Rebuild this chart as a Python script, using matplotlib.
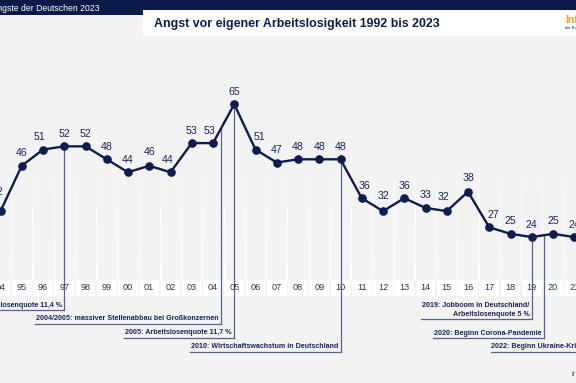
import matplotlib
matplotlib.use("Agg")
import matplotlib.pyplot as plt
from matplotlib.patches import Rectangle

plt.rcParams['font.family'] = ['Liberation Sans', 'DejaVu Sans']

# data (1994-2021 visible in the crop)
years = list(range(1994, 2022))
angst = [32, 46, 51, 52, 52, 48, 44, 46, 44, 53, 53, 65, 51, 47,
         48, 48, 48, 36, 32, 36, 33, 32, 38, 27, 25, 24, 25, 24]
year_labels = [str(y)[2:] for y in years]

# events: (x position in years, text)
events = [
    (1997.0, "1997: Arbeitslosenquote 11,4 %"),
    (2004.38, "2004/2005: massiver Stellenabbau bei Großkonzernen"),
    (2005.0, "2005: Arbeitslosenquote 11,7 %"),
    (2010.0, "2010: Wirtschaftswachstum in Deutschland"),
    (2019.0, "2019: Jobboom in Deutschland/\nArbeitslosenquote 5 %"),
    (2019.58, "2020: Beginn Corona-Pandemie"),
    (2022.15, "2022: Beginn Ukraine-Krieg"),
]
# pixel rows for underline of each event
event_rows = [310, 323.5, 337.5, 351.5, 319, 338, 351.5]

NAVY = "#0e1d4d"
TXT = "#16265a"
GRAY_LINE = "#56648a"
BG = "#f3f3f4"

W, H = 576, 383
fig = plt.figure(figsize=(W / 100, H / 100), dpi=100)
fig.patch.set_facecolor(BG)
ax = fig.add_axes([0, 0, 1, 1])
ax.set_facecolor(BG)
ax.axis('off')

# pixel <-> data helpers
def xd(px):
    return 1994 + (px - 0.5) / 21.25

def yd(py):
    return 48 - (py - 159.3) / 3.24

ax.set_xlim(xd(0), xd(W))
ax.set_ylim(yd(H), yd(0))

# faint vertical stripes between years
for y in years + [years[-1] + 1]:
    xm = y - 0.5
    for k in range(10):
        p0 = 130 + k * 15
        ax.plot([xm, xm], [yd(p0), yd(p0 + 15)], color="white",
                lw=1.0, alpha=0.15 + 0.08 * k, zorder=1, solid_capstyle='butt')

# year band
for y, lab in zip(years, year_labels):
    ax.add_patch(Rectangle((y - 0.46, yd(295.5)), 0.92, yd(280) - yd(295.5),
                           facecolor="white", edgecolor="none", zorder=2))
    ax.text(y, yd(288), lab, ha='center', va='center', fontsize=6.6,
            color="#2a3760", zorder=3)

# event lines and labels
for (ex, txt), row in zip(events, event_rows):
    i = int(ex) - 1994
    if i + 1 < len(angst):
        top = angst[i] + (angst[i + 1] - angst[i]) * (ex - int(ex))
    else:
        top = yd(row)
    ax.plot([ex, ex], [top, yd(row)], color=GRAY_LINE, lw=0.9, zorder=2)
    xr = ex - 2.2 / 21.25
    if txt.startswith("2022"):
        xl = xd(491)
        ax.text(xl, yd(row - 4.5), txt, ha='left', va='center', fontsize=5.1,
                fontweight='bold', color=TXT, zorder=4)
        ax.plot([xl, ex], [yd(row), yd(row)], color=GRAY_LINE, lw=0.9, zorder=2)
        continue
    t = ax.text(xr, yd(row - 4.5), txt, ha='right', va='bottom' if "\n" in txt else 'center',
                fontsize=5.1, fontweight='bold', color=TXT, zorder=4,
                multialignment='right', linespacing=1.35)
    if "\n" in txt:
        t.set_position((xr, yd(row - 1.5)))
    fig.canvas.draw()
    bb = t.get_window_extent()
    xl = ax.transData.inverted().transform((bb.x0 - 1, 0))[0]
    ax.plot([xl, ex], [yd(row), yd(row)], color=GRAY_LINE, lw=0.9, zorder=2)

# the series
ax.plot(years, angst, color=NAVY, lw=1.7, zorder=5, solid_joinstyle='round')
ax.plot(years, angst, 'o', color=NAVY, ms=5.2, zorder=6)

# value labels
dx = {1994: -3, 1996: -4, 2002: -3, 2004: -4, 2006: 4, 2011: 3, 2015: -3, 2017: 4}
dy = {1994: 19.5, 2001: 14, 2012: 15, 2015: 14, 2016: 14}
for y, v in zip(years, angst):
    ax.annotate(str(v), (y, v),
                xytext=(dx.get(y, 0) * 0.72, dy.get(y, 12.5) * 0.72),
                textcoords='offset points', ha='center', va='center',
                fontsize=7.6, color=TXT, zorder=7)

# header
def fig_rect(x0, y0, x1, y1, color):
    fig.patches.append(Rectangle((x0 / W, 1 - y1 / H), (x1 - x0) / W, (y1 - y0) / H,
                                 transform=fig.transFigure, facecolor=color,
                                 edgecolor='none', zorder=10))

fig_rect(0, 0, W, 15, "#0c1a4b")
fig_rect(143, 10, W, 36, "white")
fig.text(99 / W, 1 - 8 / H, "Die Ängste der Deutschen 2023", ha='right', va='center',
         fontsize=6.2, color='white', zorder=11)
fig.text(154 / W, 1 - 24 / H, "Angst vor eigener Arbeitslosigkeit 1992 bis 2023",
         ha='left', va='center', fontsize=8.9, fontweight='bold', color="#0d1c4c", zorder=11)
fig.text(565 / W, 1 - 20 / H, "Infocenter", ha='left', va='center', fontsize=7.5,
         fontweight='bold', color="#f0a52a", zorder=11)
fig.text(565 / W, 1 - 28.5 / H, "der R+V Versicherung", ha='left', va='center',
         fontsize=2.8, color="#0d1c4c", zorder=11)
fig.text(572 / W, 1 - 374 / H, "ir", ha='left', va='center', fontsize=5.5,
         color="#555555", zorder=11)

fig.savefig("out.png", dpi=100, facecolor=fig.get_facecolor())
